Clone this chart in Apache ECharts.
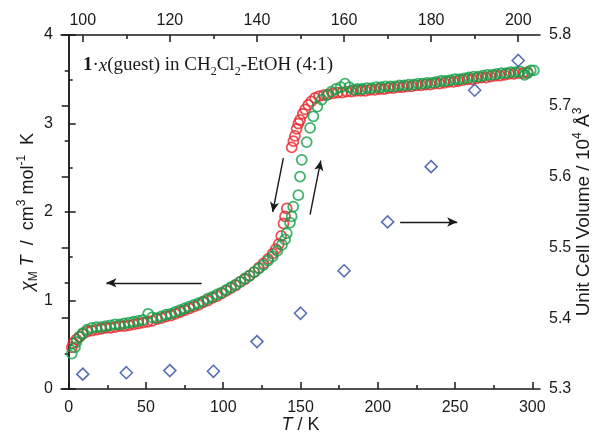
<!DOCTYPE html>
<html>
<head>
<meta charset="utf-8">
<title>chiT vs T</title>
<script src="https://cdn.jsdelivr.net/npm/echarts@6.0.0/dist/echarts.min.js"></script>
<style>
  html, body { margin: 0; padding: 0; background: #fff; }
  #chart { width: 598px; height: 437px; }
</style>
</head>
<body>
<div id="chart"></div>
<script>
// heating (green) chiMT data
var greenT = [2, 4, 5, 7, 9, 12, 15, 18, 21, 24, 27, 30, 33, 36, 39, 42, 45, 48, 51.4, 54, 57, 60,
  63, 66, 69, 72, 75, 78, 81, 84, 87, 90, 93, 96, 99, 102, 105, 108, 111, 114, 117, 120, 123, 126,
  129, 132, 135, 138, 140, 141.1, 143.2, 144.3, 145.3, 148.6, 149.7, 150.8, 154, 156.2, 158.3,
  160.9, 163.7, 166.9, 170, 173, 176, 178.8, 181.5, 184.2, 187, 190, 193, 196, 199, 202, 205, 208,
  211, 214, 217, 220, 223, 226, 229, 232, 235, 238, 241, 244, 247, 250, 253, 256, 259, 262, 265,
  268, 271, 274, 277, 280, 283, 286, 289, 292, 295, 297, 299, 301]
var greenChi = [0.40, 0.47, 0.53, 0.59, 0.63, 0.67, 0.69, 0.70, 0.70, 0.71, 0.72, 0.73, 0.73, 0.74,
  0.75, 0.76, 0.77, 0.78, 0.85, 0.81, 0.80, 0.82,
  0.84, 0.85, 0.87, 0.89, 0.91, 0.93, 0.95, 0.97, 0.99, 1.02, 1.04, 1.07, 1.09, 1.12, 1.15, 1.18,
  1.21, 1.25, 1.28, 1.32, 1.36, 1.40, 1.45, 1.50, 1.56, 1.63, 1.69, 1.76, 1.88, 1.95, 2.06, 2.19,
  2.40, 2.59, 2.79, 2.95, 3.08, 3.19, 3.27, 3.32, 3.36, 3.39, 3.41, 3.45, 3.41, 3.38, 3.39, 3.39,
  3.40, 3.40, 3.41, 3.41, 3.42, 3.42, 3.42, 3.43, 3.43, 3.44, 3.44, 3.45, 3.45, 3.46, 3.46, 3.47,
  3.48, 3.48, 3.49, 3.50, 3.50, 3.51, 3.52, 3.53, 3.53, 3.54, 3.55, 3.55, 3.56, 3.57, 3.57, 3.58,
  3.58, 3.59, 3.55, 3.57, 3.60, 3.60]

// cooling (red) chiMT data
var redT = [2, 3, 5, 7, 9, 12, 15, 18, 21, 24, 27, 30, 33, 36, 39, 42, 45, 48, 51, 54, 57, 60, 63,
  66, 69, 72, 75, 78, 81, 84, 87, 90, 93, 96, 99, 102, 105, 108, 111, 114, 117, 120, 123, 126, 129,
  132, 134, 136, 137.5, 139, 140, 141.1, 144.3, 145.4, 146.4, 147.5, 148.6, 149.7, 151.5, 153, 155,
  157, 159.4, 162, 165, 168, 171, 174, 177, 180, 183, 186, 189, 192, 195, 198, 201, 204, 207, 210,
  213, 216, 219, 222, 225, 228, 231, 234, 237, 240, 243, 246, 249, 252, 255, 258, 261, 264, 267,
  270, 273, 276, 279, 282, 285, 288, 291, 294, 297]
var redChi = [0.47, 0.52, 0.56, 0.59, 0.62, 0.65, 0.66, 0.67, 0.68, 0.69, 0.69, 0.70, 0.71, 0.71,
  0.72, 0.73, 0.74, 0.75, 0.76, 0.77, 0.79, 0.80, 0.82, 0.83, 0.85, 0.87, 0.89, 0.91, 0.93, 0.95,
  0.98, 1.00, 1.03, 1.05, 1.08, 1.11, 1.14, 1.17, 1.21, 1.24, 1.28, 1.32, 1.37, 1.42, 1.47, 1.53,
  1.58, 1.64, 1.73, 1.87, 1.95, 2.04, 2.73, 2.80, 2.86, 2.94, 3.00, 3.04, 3.11, 3.16, 3.21, 3.25,
  3.29, 3.31, 3.32, 3.33, 3.34, 3.35, 3.35, 3.36, 3.36, 3.37, 3.37, 3.37, 3.38, 3.38, 3.39, 3.39,
  3.40, 3.40, 3.41, 3.41, 3.42, 3.42, 3.43, 3.43, 3.44, 3.44, 3.45, 3.45, 3.46, 3.47, 3.47, 3.48,
  3.49, 3.50, 3.50, 3.51, 3.52, 3.52, 3.53, 3.54, 3.54, 3.55, 3.56, 3.56, 3.57, 3.57, 3.58]

// unit cell volume (top T axis, right axis)
var cellT = [100, 110, 120, 130, 140, 150, 160, 170, 180, 190, 200]
var cellVol = [5.321, 5.323, 5.326, 5.325, 5.367, 5.407, 5.467, 5.536, 5.614, 5.722, 5.764]

// tick values
var bottomMajor = [0, 50, 100, 150, 200, 250, 300]
var bottomMinor = [25, 75, 125, 175, 225, 275]
var topMajor = [100, 120, 140, 160, 180, 200]
var topMinor = [110, 130, 150, 170, 190]

function zip(a, b) {
  return a.map(function (v, i) { return [v, b[i]] })
}

var ink = '#1a1a1a'
var sans = 'Liberation Sans, Arial, sans-serif'
var serif = 'Liberation Serif, Times New Roman, serif'

function richFor(size) {
  return {
    n: { fontSize: size, fontFamily: sans, color: ink, lineHeight: 24 },
    i: { fontSize: size, fontFamily: sans, color: ink, fontStyle: 'italic', lineHeight: 24 },
    sub: { fontSize: 12, fontFamily: sans, color: ink, verticalAlign: 'bottom' },
    sup: { fontSize: 12, fontFamily: sans, color: ink, verticalAlign: 'top' }
  }
}

function axisBase(extra) {
  var a = {
    type: 'value',
    nameMoveOverlap: false,
    axisLine: { show: true, lineStyle: { color: ink, width: 1.5 } },
    axisTick: { show: true, inside: true, length: 7, lineStyle: { color: ink, width: 1.5 } },
    axisLabel: { show: true, fontSize: 16, fontFamily: sans, color: ink, margin: 8 },
    splitLine: { show: false }
  }
  return Object.assign(a, extra)
}

var chart = echarts.init(document.getElementById('chart'))
chart.setOption({
  animation: false,
  backgroundColor: '#fff',
  grid: { left: 61, right: 58, top: 35, bottom: 48, containLabel: false, outerBoundsMode: 'none' },
  xAxis: [
    axisBase({
      position: 'bottom', min: -5, max: 305,
      axisTick: { show: true, inside: true, length: 7, customValues: bottomMajor, lineStyle: { color: ink, width: 1.5 } },
      axisLabel: { fontSize: 16, fontFamily: sans, color: ink, margin: 11, customValues: bottomMajor },
      name: '{i|T}{n| / K}',
      nameLocation: 'middle',
      nameGap: 24,
      nameTextStyle: { rich: richFor(18) }
    }),
    axisBase({
      position: 'bottom', min: -5, max: 305,
      axisLine: { show: false },
      axisTick: { show: true, inside: true, length: 4, customValues: bottomMinor, lineStyle: { color: ink, width: 1.5 } },
      axisLabel: { show: false }
    }),
    axisBase({
      position: 'top', min: 95, max: 205,
      axisTick: { show: true, inside: true, length: 7, customValues: topMajor, lineStyle: { color: ink, width: 1.5 } },
      axisLabel: { fontSize: 16, fontFamily: sans, color: ink, margin: 6, customValues: topMajor }
    }),
    axisBase({
      position: 'top', min: 95, max: 205,
      axisLine: { show: false },
      axisTick: { show: true, inside: true, length: 4, customValues: topMinor, lineStyle: { color: ink, width: 1.5 } },
      axisLabel: { show: false }
    })
  ],
  yAxis: [
    axisBase({
      position: 'left', min: 0, max: 4, interval: 1,
      minorTick: { show: true, splitNumber: 2, length: 4, lineStyle: { color: ink, width: 1.5 } },
      name: '{i|χ}{sub|M}{i| T}{n|  /  cm}{sup|3}{n| mol}{sup|-1}{n|  K}',
      nameLocation: 'middle',
      nameGap: 21,
      nameTextStyle: { rich: richFor(18) }
    }),
    axisBase({
      position: 'right', min: 5.3, max: 5.8, interval: 0.1,
      minorTick: { show: true, splitNumber: 2, length: 4, lineStyle: { color: ink, width: 1.5 } },
      axisLabel: {
        fontSize: 16, fontFamily: sans, color: ink, margin: 9,
        formatter: function (v) { return v.toFixed(1) }
      },
      name: '{n|Unit Cell Volume / 10}{sup|4}{n| Å}{sup|3}',
      nameLocation: 'middle',
      nameGap: 32,
      nameRotate: 90,
      nameTextStyle: { rich: richFor(19) }
    })
  ],
  // sample label, top left
  graphic: [{
    type: 'text',
    left: 83,
    top: 56,
    style: {
      text: '{b|1}{n|·}{i|x}{n|(guest) in CH}{s|2}{n|Cl}{s|2}{n|-EtOH (4:1)}',
      rich: {
        n: { fontSize: 19, fontFamily: serif, fill: ink, lineHeight: 25 },
        b: { fontSize: 19, fontFamily: serif, fill: ink, fontWeight: 'bold', lineHeight: 25 },
        i: { fontSize: 19, fontFamily: serif, fill: ink, fontStyle: 'italic', lineHeight: 25 },
        s: { fontSize: 12, fontFamily: serif, fill: ink, verticalAlign: 'bottom' }
      }
    }
  }],
  series: [
    {
      name: 'cooling',
      type: 'scatter',
      xAxisIndex: 0,
      yAxisIndex: 0,
      symbol: 'circle',
      symbolSize: 10,
      itemStyle: { color: 'rgba(0,0,0,0)', borderColor: '#e8262a', borderWidth: 1.8 },
      data: zip(redT, redChi),
      z: 2
    },
    {
      name: 'heating',
      type: 'scatter',
      xAxisIndex: 0,
      yAxisIndex: 0,
      symbol: 'circle',
      symbolSize: 10,
      itemStyle: { color: 'rgba(0,0,0,0)', borderColor: '#13a04b', borderWidth: 1.8 },
      data: zip(greenT, greenChi),
      z: 3,
      // direction arrows
      markLine: {
        silent: true,
        animation: false,
        symbol: ['none', 'arrow'],
        symbolSize: [7, 10],
        label: { show: false },
        lineStyle: { color: ink, width: 1.4, type: 'solid' },
        data: [
          [{ coord: [86, 1.2] }, { coord: [24.4, 1.2] }],
          [{ coord: [138.9, 2.61] }, { coord: [132, 2.0] }],
          [{ coord: [156.2, 1.97] }, { coord: [163.1, 2.58] }],
          [{ coord: [214.5, 1.887] }, { coord: [251.4, 1.887] }]
        ]
      }
    },
    {
      name: 'volume',
      type: 'scatter',
      xAxisIndex: 2,
      yAxisIndex: 1,
      symbol: 'diamond',
      symbolSize: 12,
      itemStyle: { color: 'rgba(0,0,0,0)', borderColor: '#2f4aa3', borderWidth: 1.6 },
      data: zip(cellT, cellVol),
      z: 4
    }
  ]
})
</script>
</body>
</html>
